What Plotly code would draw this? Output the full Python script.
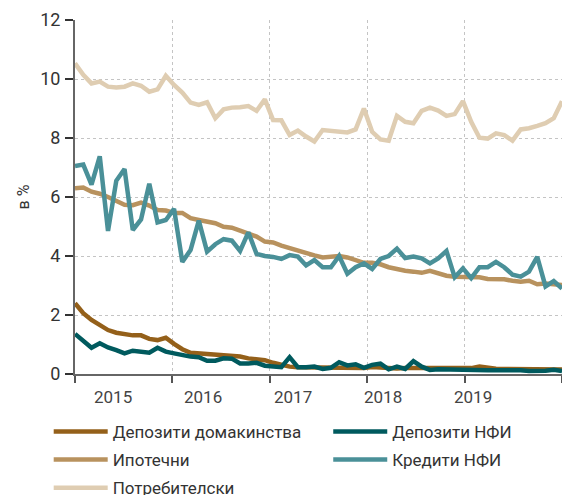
import plotly.graph_objects as go

# month index, Jan 2015 .. Dec 2019
months = list(range(60))

years = ["2015", "2016", "2017", "2018", "2019"]
year_pos = [4.57, 15.51, 26.42, 37.32, 48.23]
grid_pos = [0, 11.8, 23.6, 35.4, 47.2, 59]

consumer = [10.53, 10.14, 9.85, 9.91, 9.74, 9.71, 9.74, 9.85, 9.77, 9.57,
            9.65, 10.11, 9.80, 9.54, 9.20, 9.12, 9.21, 8.67, 8.97, 9.03,
            9.04, 9.08, 8.92, 9.31, 8.61, 8.60, 8.10, 8.25, 8.05, 7.88,
            8.27, 8.25, 8.21, 8.19, 8.29, 9.00, 8.21, 7.95, 7.91, 8.75,
            8.55, 8.50, 8.92, 9.03, 8.93, 8.75, 8.81, 9.25, 8.55, 8.01,
            7.98, 8.16, 8.10, 7.91, 8.29, 8.33, 8.41, 8.50, 8.67, 9.25]

mortgage = [6.30, 6.32, 6.18, 6.11, 6.00, 5.86, 5.74, 5.72, 5.81, 5.71,
            5.56, 5.54, 5.46, 5.46, 5.28, 5.22, 5.16, 5.11, 4.99, 4.96,
            4.86, 4.75, 4.66, 4.49, 4.46, 4.35, 4.26, 4.18, 4.09, 4.02,
            3.95, 3.98, 4.00, 3.95, 3.86, 3.77, 3.77, 3.72, 3.62, 3.55,
            3.50, 3.47, 3.43, 3.50, 3.41, 3.33, 3.30, 3.30, 3.30, 3.28,
            3.22, 3.22, 3.21, 3.16, 3.13, 3.16, 3.04, 3.07, 3.06, 3.02]

credits_nfi = [7.05, 7.10, 6.42, 7.38, 4.85, 6.55, 6.95, 4.88, 5.24, 6.45,
               5.14, 5.22, 5.60, 3.80, 4.20, 5.20, 4.15, 4.40, 4.57, 4.52,
               4.17, 4.80, 4.07, 4.00, 3.97, 3.90, 4.03, 3.98, 3.68, 3.86,
               3.62, 3.62, 4.00, 3.40, 3.62, 3.75, 3.56, 3.90, 4.00, 4.25,
               3.93, 3.98, 3.92, 3.75, 3.92, 4.17, 3.28, 3.58, 3.25, 3.62,
               3.62, 3.80, 3.62, 3.37, 3.30, 3.47, 3.97, 2.97, 3.15, 2.90]

deposits_hh = [2.40, 2.06, 1.83, 1.68, 1.49, 1.40, 1.35, 1.31, 1.31, 1.19,
               1.15, 1.23, 1.02, 0.84, 0.72, 0.70, 0.68, 0.68, 0.64, 0.62,
               0.59, 0.53, 0.50, 0.47, 0.38, 0.31, 0.25, 0.23, 0.23, 0.22,
               0.22, 0.20, 0.22, 0.21, 0.23, 0.20, 0.24, 0.22, 0.20, 0.19,
               0.20, 0.20, 0.19, 0.18, 0.18, 0.19, 0.19, 0.20, 0.20, 0.25,
               0.20, 0.18, 0.17, 0.17, 0.16, 0.16, 0.17, 0.16, 0.16, 0.15]

deposits_nfi = [1.36, 1.10, 0.89, 1.04, 0.90, 0.81, 0.70, 0.79, 0.76, 0.72,
                0.89, 0.76, 0.70, 0.64, 0.59, 0.57, 0.45, 0.45, 0.53, 0.52,
                0.36, 0.36, 0.38, 0.28, 0.27, 0.23, 0.57, 0.23, 0.23, 0.25,
                0.17, 0.21, 0.40, 0.29, 0.33, 0.21, 0.31, 0.35, 0.16, 0.25,
                0.17, 0.44, 0.25, 0.14, 0.16, 0.15, 0.15, 0.15, 0.14, 0.14,
                0.13, 0.13, 0.14, 0.15, 0.13, 0.10, 0.10, 0.11, 0.14, 0.10]

FONT = "Roboto"

fig = go.Figure()

def add(y, name, color, legend, rank):
    fig.add_trace(go.Scatter(
        x=months, y=y, name=name, mode="lines",
        line=dict(color=color, width=4.5),
        legend=legend, legendrank=rank, legendgroup=name,
        hoverinfo="skip",
    ))

add(consumer, "Потребителски", "#dfcdb2", "legend", 3)
add(mortgage, "Ипотечни", "#b8925e", "legend", 2)
add(credits_nfi, "Кредити НФИ", "#4a9098", "legend2", 2)
add(deposits_hh, "Депозити домакинства", "#94601a", "legend", 1)
add(deposits_nfi, "Депозити НФИ", "#005a5e", "legend2", 1)

for yr, xp in zip(years, year_pos):
    fig.add_annotation(x=xp, y=-0.065, xref="x", yref="paper", text=yr,
                       showarrow=False, yanchor="middle",
                       font=dict(size=17, color="#444", family=FONT, weight=400))

legend_style = dict(
    orientation="v", yanchor="top", xanchor="left",
    font=dict(size=17, color="#333", family=FONT),
    tracegroupgap=3, itemwidth=54, bgcolor="rgba(0,0,0,0)",
)

# page body adds an 8px offset, so the figure is 8px smaller than the window
fig.update_layout(
    width=562, height=487,
    margin=dict(l=67, r=8, t=12, b=121, autoexpand=False),
    plot_bgcolor="white", paper_bgcolor="white",
    font=dict(family=FONT, color="#333"),
    legend=dict(x=-0.054, y=-0.1127, **legend_style),
    legend2=dict(x=0.52, y=-0.1127, **legend_style),
    xaxis=dict(
        range=[0, 59], tickvals=grid_pos, ticktext=[""] * len(grid_pos),
        showgrid=True, gridcolor="#c4c4c4", griddash="dot", gridwidth=1,
        showline=True, linecolor="#666", linewidth=2,
        ticks="outside", ticklen=7, tickwidth=2, tickcolor="#555",
        zeroline=False,
    ),
    yaxis=dict(
        range=[0, 12], tickvals=[0, 2, 4, 6, 8, 10, 12],
        showgrid=True, gridcolor="#c4c4c4", griddash="dot", gridwidth=1,
        showline=True, linecolor="#666", linewidth=2,
        ticks="outside", ticklen=8, tickwidth=2, tickcolor="#333",
        tickfont=dict(size=18, color="#333", family=FONT),
        ticklabelstandoff=1,
        title=dict(text="в %", font=dict(size=16, color="#333", family=FONT), standoff=7),
        zeroline=False,
    ),
)

fig.write_html("out.html")
